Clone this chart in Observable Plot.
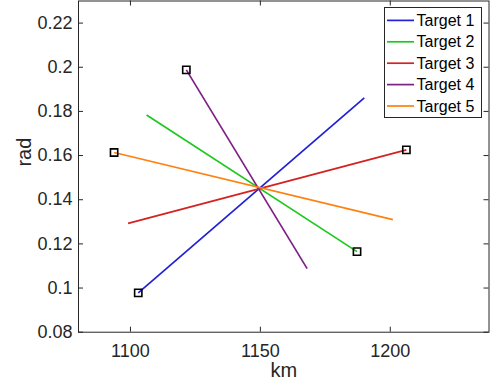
<!DOCTYPE html>
<html>
<head>
<meta charset="utf-8">
<script src="https://cdn.jsdelivr.net/npm/d3@7"></script>
<script src="https://cdn.jsdelivr.net/npm/@observablehq/plot@0.6"></script>
<style>
  html, body { margin: 0; padding: 0; background: #fff; }
  #wrap { position: relative; width: 496px; height: 390px; }
  #legend { position: absolute; left: 384px; top: 7px; }
</style>
</head>
<body>
<div id="wrap"></div>
<script>
// ---- data ----
const targets = ["Target 1", "Target 2", "Target 3", "Target 4", "Target 5"];
const colors = ["#2020d4", "#1ec81e", "#d42222", "#7e1f86", "#ff8010"];
// end with the square marker
const markKm  = [1103.0, 1187.2, 1206.2, 1121.5, 1093.7];
const markRad = [0.0978, 0.1165, 0.1626, 0.1988, 0.1614];
// other end of each line
const endKm   = [1190.0, 1106.2, 1099.1, 1168.0, 1201.0];
const endRad  = [0.1861, 0.1784, 0.1293, 0.1088, 0.1310];
const xTicks = [1100, 1150, 1200];
const yTicks = [0.08, 0.10, 0.12, 0.14, 0.16, 0.18, 0.20, 0.22];
const xDomain = [1080, 1238];
const yDomain = [0.08, 0.23];

const rows = targets.map((t, i) => ({
  target: t, x1: markKm[i], y1: markRad[i], x2: endKm[i], y2: endRad[i]
}));

const W = 496, H = 390, mt = 0.5, mb = 58.3, ml = 78, mr = 7.5;
const plotH = H - mt - mb, plotW = W - ml - mr;
const ink = "#262626";
const font = "'Liberation Sans', Arial, Helvetica, sans-serif";
const tickLen = 5;

const chart = Plot.plot({
  width: W, height: H,
  marginTop: mt, marginBottom: mb, marginLeft: ml, marginRight: mr,
  style: {fontFamily: font, fontSize: "18px", color: ink, background: "#fff"},
  x: {domain: xDomain},
  y: {domain: yDomain},
  color: {type: "ordinal", domain: targets, range: colors},
  marks: [
    Plot.frame({stroke: ink, strokeWidth: 1}),
    // inward ticks on all four sides
    Plot.tickX(xTicks, {x: d => d, insetTop: plotH - tickLen, stroke: ink}),
    Plot.tickX(xTicks, {x: d => d, insetBottom: plotH - tickLen, stroke: ink}),
    Plot.tickY(yTicks, {y: d => d, insetRight: plotW - tickLen, stroke: ink}),
    Plot.tickY(yTicks, {y: d => d, insetLeft: plotW - tickLen, stroke: ink}),
    Plot.axisX({ticks: xTicks, tickSize: 0, tickPadding: 12, fontSize: 18, label: null,
      tickFormat: d => String(d), fill: ink}),
    Plot.axisY({ticks: yTicks, tickSize: 0, tickPadding: 6, fontSize: 18, label: null,
      tickFormat: d => String(+d.toFixed(2)), fill: ink}),
    Plot.text(["km"], {frameAnchor: "bottom", dy: 44.6, fontSize: 20, fill: ink}),
    Plot.text(["rad"], {frameAnchor: "left", dx: -54.4, rotate: -90, fontSize: 20, fill: ink}),
    Plot.link(rows, {x1: "x1", y1: "y1", x2: "x2", y2: "y2", stroke: "target", strokeWidth: 1.7}),
    Plot.dot(rows, {x: "x1", y: "y1", symbol: "square", r: 4.1, stroke: "#000", strokeWidth: 1.6, fill: "none"})
  ]
});

const wrap = document.getElementById("wrap");
wrap.appendChild(chart);

// legend (inside the axes, top-right)
const lw = 97, lh = 110, rowStep = 21.4, row0 = 13.4;
const leg = d3.select(wrap).append("svg")
  .attr("id", "legend").attr("width", lw + 1).attr("height", lh + 1);
leg.append("rect").attr("x", 0.5).attr("y", 0.5).attr("width", lw).attr("height", lh)
  .attr("fill", "#fff").attr("stroke", ink).attr("stroke-width", 1);
const item = leg.selectAll("g").data(targets).join("g")
  .attr("transform", (d, i) => `translate(0,${row0 + i * rowStep})`);
item.append("line").attr("x1", 3).attr("x2", 30).attr("y1", 0).attr("y2", 0)
  .attr("stroke", (d, i) => colors[i]).attr("stroke-width", 1.7);
item.append("text").attr("x", 32.5).attr("dy", "0.35em").text(d => d)
  .attr("font-family", font).attr("font-size", 16).attr("fill", "#000");
</script>
</body>
</html>
